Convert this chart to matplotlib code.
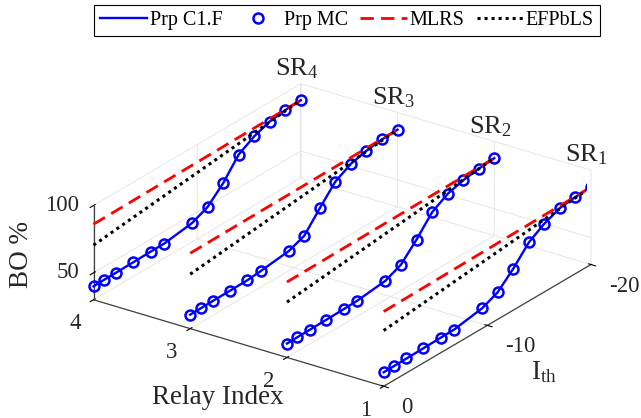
import numpy as np
import matplotlib
matplotlib.use('Agg')
import matplotlib.pyplot as plt
from mpl_toolkits.mplot3d import proj3d

plt.rcParams['font.family'] = ['Liberation Serif', 'DejaVu Serif']
plt.rcParams['mathtext.fontset'] = 'custom'
plt.rcParams['mathtext.rm'] = 'Liberation Serif'
plt.rcParams['mathtext.it'] = 'Liberation Serif:italic'
plt.rcParams['axes.unicode_minus'] = False
plt.rcParams['grid.color'] = '#e2e2e2'
plt.rcParams['grid.linewidth'] = 0.6

# ---------------- data ----------------
relays = [1, 2, 3, 4]
ith = [0, -1, -2.2, -3.8, -5.5, -6.8, -9.5, -11, -12.5, -14, -15.5, -17, -18.5, -20]
bo_relay1 = [40.4, 40.5, 40.7, 40.9, 41.2, 41.4, 45.0, 50.1, 60.8, 73.5, 80.7, 85.5, 87.0, 87.5]
bo_relay2 = [40.3, 40.5, 40.6, 40.8, 41.1, 41.5, 44.0, 49.2, 61.0, 74.5, 81.4, 84.7, 86.5, 87.6]
bo_relay3 = [40.4, 40.5, 40.7, 40.8, 41.0, 42.0, 44.6, 49.2, 62.9, 75.9, 82.3, 85.2, 86.9, 87.3]
bo_relay4 = [40.0, 40.2, 40.3, 40.5, 40.8, 40.9, 44.0, 49.1, 60.0, 74.5, 81.3, 85.5, 87.2, 87.8]
ith_ends = [0, -20]
mlrs_start = [85.5, 86.0, 86.0, 86.1]
mlrs_end = [87.5, 87.6, 87.3, 87.8]
efp_start = [71.4, 71.1, 70.4, 70.5]
efp_end = [87.5, 87.6, 87.3, 87.8]
sr_labels = ['SR$_1$', 'SR$_2$', 'SR$_3$', 'SR$_4$']
legend_labels = ['Prp C1.F', 'Prp MC', 'MLRS', 'EFPbLS']
xticks = [1, 2, 3, 4]
yticks = [-20, -10, 0]
zticks = [50, 100]

bo_all = [bo_relay1, bo_relay2, bo_relay3, bo_relay4]

# ---------------- figure ----------------
FW, FH = 641, 418
fig = plt.figure(figsize=(FW / 100, FH / 100), dpi=100)
fig.patch.set_facecolor('white')
ax = fig.add_axes([0.1, 0.0, FH / FW, 1.0], projection='3d', computed_zorder=False)
ax.set_proj_type('ortho')
ax.view_init(elev=24.74, azim=125.47)
ax.set_box_aspect((357, 358, 104))

TICK_FS = 16.5
LABEL_FS = 19.5
txtc = '#262626'

handles = []
for k, (r, vals) in enumerate(zip(relays, bo_all)):
    n = len(ith)
    l1, = ax.plot([r] * n, ith, vals, color='#0000ff', lw=1.7, zorder=2)
    l2, = ax.plot([r] * n, ith, vals, ls='none', marker='o', mfc='none',
                  mec='#0000ff', ms=7.2, mew=1.8, zorder=3)
    l3, = ax.plot([r, r], ith_ends, [mlrs_start[k], mlrs_end[k]], color='#ff0000',
                  lw=2.0, ls=(0, (4.8, 2.6)), zorder=4)
    l4, = ax.plot([r, r], ith_ends, [efp_start[k], efp_end[k]], color='k',
                  lw=2.2, ls=(0, (1.0, 1.3)), zorder=5)
    if k == 0:
        handles = [l1, l2, l3, l4]
    ax.text(r, -19.6, 113, sr_labels[k], ha='center', va='center',
            fontsize=19, color=txtc)

ax.set_xlim(1, 4)
ax.set_ylim(-20, 0)
ax.set_zlim(30, 100)
ax.set_xticks(xticks)
ax.set_yticks(yticks)
ax.set_zticks(zticks)
for axis in (ax.xaxis, ax.yaxis, ax.zaxis):
    axis.set_pane_color((1, 1, 1, 0))
    axis.pane.set_edgecolor('#d6d6d6')
    axis.pane.set_linewidth(0.8)
    axis.line.set_color('#404040')
    axis.line.set_linewidth(0.9)
    axis._axinfo['tick']['color'] = '#404040'
    axis.label.set_visible(False)
    axis.offsetText.set_visible(False)
for ttl in (ax.title, getattr(ax, '_left_title', None), getattr(ax, '_right_title', None)):
    if ttl is not None:
        ttl.set_visible(False)
ax.tick_params(axis='both', labelsize=TICK_FS, labelcolor=txtc)
ax.tick_params(axis='z', labelsize=TICK_FS, labelcolor=txtc)
ax.grid(True)

# ------------- put the z axis on the left front edge ------------
def zaxis_x():
    fig.canvas.draw()
    xd = np.asarray(ax.zaxis.line.get_xdata(), float)
    yd = np.asarray(ax.zaxis.line.get_ydata(), float)
    pix = ax.transData.transform(np.column_stack([xd, yd]))
    return pix[:, 0].mean()

orig_jug = tuple(ax.zaxis._axinfo['juggled'])
best = None
for jug in [orig_jug, (1, 2, 0)]:
    for pos in ['default', 'lower', 'upper']:
        try:
            ax.zaxis._axinfo['juggled'] = jug
            ax.zaxis.set_ticks_position(pos)
            mx = zaxis_x()
        except Exception:
            continue
        if best is None or mx < best[0] - 1:
            best = (mx, jug, pos)
if best is not None:
    ax.zaxis._axinfo['juggled'] = best[1]
    try:
        ax.zaxis.set_ticks_position(best[2])
    except Exception:
        pass

# ------------- place the 3D box to match the reference ------------
def project(x, y, z):
    M = ax.get_proj()
    xs, ys, _ = proj3d.proj_transform(np.array([x]), np.array([y]), np.array([z]), M)
    return ax.transData.transform(np.column_stack([xs, ys]))[0]

fig.canvas.draw()
pts3d = [(4, 0, 30), (1, -20, 30), (4, -20, 100), (1, 0, 30)]
targ_img = [(93.3, 299.3), (591.7, 264.0), (300.0, 85.0), (384.0, 386.0)]
A = []
b = []
for (x, y, z), (tx, ty) in zip(pts3d, targ_img):
    u, v = ax.transAxes.inverted().transform(project(x, y, z))
    A.append([u, 1, 0]); b.append(tx)
    A.append([v, 0, 1]); b.append(FH - ty)
sol, *_ = np.linalg.lstsq(np.array(A), np.array(b), rcond=None)
Wb, X0, Y0 = sol
ax.set_position([X0 / FW, Y0 / FH, Wb / FW, Wb / FH])
fig.canvas.draw()

# tick label alignment like the reference
for t in ax.xaxis.get_major_ticks():
    t.label1.set_horizontalalignment('right')
for t in ax.yaxis.get_major_ticks():
    t.label1.set_horizontalalignment('left')
# z tick labels are drawn below as level, right-aligned texts
for t in ax.zaxis.get_major_ticks():
    t.label1.set_visible(False)
    t.label2.set_visible(False)

for zt in zticks:
    px, py = project(4, 0, zt)
    fig.text((px - 14) / FW, py / FH, f'{zt:g}', ha='right', va='center',
             fontsize=TICK_FS, color=txtc)

# axis labels
fig.text(22 / FW, 1 - 254 / FH, 'BO %', rotation=90, ha='center', va='center',
         fontsize=LABEL_FS, color=txtc)
fig.text(218 / FW, 1 - 398 / FH, 'Relay Index', ha='center', va='center',
         fontsize=LABEL_FS, color=txtc)
fig.text(544 / FW, 1 - 372 / FH, 'I$_{\\rm th}$', ha='center', va='center',
         fontsize=LABEL_FS, color=txtc)

leg = fig.legend(handles, legend_labels, loc='upper center',
                 bbox_to_anchor=(347.2 / FW, 1 - 5 / FH), ncol=4, fontsize=14.5,
                 frameon=True, fancybox=False, edgecolor='k', framealpha=1,
                 handlelength=2.3, handletextpad=0.15, columnspacing=0.6,
                 borderpad=0.3, borderaxespad=0)
leg.get_frame().set_linewidth(0.8)

fig.savefig('out.png', dpi=100, facecolor='white')
